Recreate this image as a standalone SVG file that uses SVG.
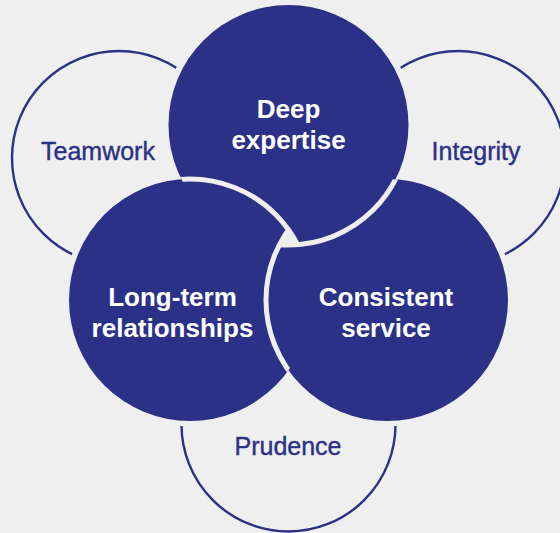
<svg xmlns="http://www.w3.org/2000/svg" width="560" height="533" viewBox="0 0 560 533">
<defs>
<style>
.bg{fill:#efefef}
.solid{fill:#2b3187}
.ring{fill:none;stroke:#2b3187;stroke-width:2.4}
.mask{fill:#efefef}
.gap{fill:none;stroke:#efefef;stroke-width:5}
.lbl{font-family:"Liberation Sans",Arial,Helvetica,sans-serif;text-anchor:middle}
.in{fill:#ffffff;font-weight:bold;font-size:26px}
.out{fill:#2b3187;font-size:25px;stroke:#2b3187;stroke-width:0.4}
</style>
<clipPath id="cD"><circle cx="288.5" cy="125" r="120"/></clipPath>
<clipPath id="cL"><circle cx="190" cy="300" r="121"/></clipPath>
<clipPath id="cC"><circle cx="387" cy="300" r="121"/></clipPath>
</defs>
<rect class="bg" x="0" y="0" width="560" height="533"/>
<g id="teamwork"><circle class="ring" cx="119" cy="158" r="107"/><text class="lbl out" x="98" y="160">Teamwork</text></g>
<g id="integrity"><circle class="ring" cx="458" cy="158" r="107"/><text class="lbl out" x="476" y="160">Integrity</text></g>
<g id="prudence"><circle class="ring" cx="288.5" cy="424.5" r="107"/><text class="lbl out" x="288" y="455">Prudence</text></g>
<g id="ring-masks">
<circle class="mask" cx="288.5" cy="125" r="126"/>
<circle class="mask" cx="190" cy="300" r="126.5"/>
<circle class="mask" cx="387" cy="300" r="126.5"/>
</g>
<g id="deep-expertise"><circle class="solid" cx="288.5" cy="125" r="120"/><text class="lbl in" x="288.5" y="118">Deep</text><text class="lbl in" x="288.5" y="149">expertise</text></g>
<g id="long-term-relationships"><circle class="solid" cx="190" cy="300" r="121"/><text class="lbl in" x="172.5" y="306">Long-term</text><text class="lbl in" x="172.5" y="337">relationships</text></g>
<g id="consistent-service"><circle class="solid" cx="387" cy="300" r="121"/><text class="lbl in" x="386" y="306">Consistent</text><text class="lbl in" x="386" y="337">service</text></g>
<g id="overlaps">
<circle class="gap" cx="190" cy="300" r="121" clip-path="url(#cD)"/>
<circle class="gap" cx="288.5" cy="125" r="120" clip-path="url(#cC)"/>
<circle class="gap" cx="387" cy="300" r="121" clip-path="url(#cL)"/>
<g clip-path="url(#cL)"><circle class="mask" cx="387" cy="300" r="121" clip-path="url(#cD)"/></g>
</g>
</svg>
